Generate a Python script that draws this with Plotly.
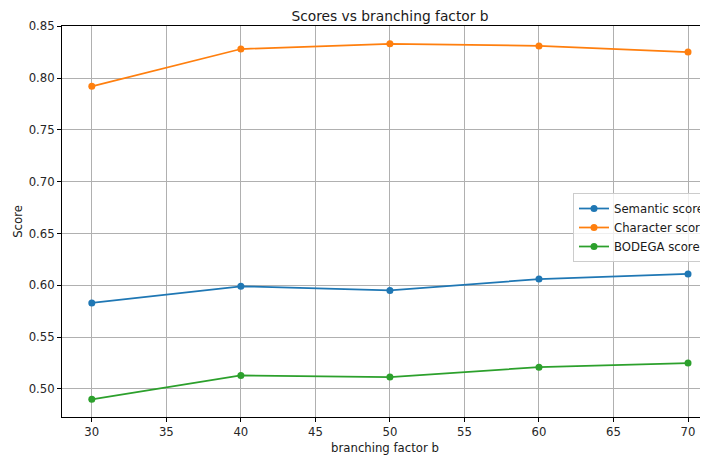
import plotly.graph_objects as go

b_values = [30, 40, 50, 60, 70]
semantic_score = [0.583, 0.599, 0.595, 0.606, 0.611]
character_score = [0.792, 0.828, 0.833, 0.831, 0.825]
bodega_score = [0.490, 0.513, 0.5115, 0.521, 0.525]

series_names = ["Semantic score", "Character score", "BODEGA score"]
series_colors = ["#1f77b4", "#ff7f0e", "#2ca02c"]

y_ticks = [0.50, 0.55, 0.60, 0.65, 0.70, 0.75, 0.80, 0.85]
x_ticks = [30, 35, 40, 45, 50, 55, 60, 65, 70]

FONT = "DejaVu Sans"
FS = 11.7
OFF = 8  # page body margin offset
W, H = 708, 457

fig = go.Figure()
for name, vals, col in zip(series_names, [semantic_score, character_score, bodega_score], series_colors):
    fig.add_trace(go.Scatter(
        x=b_values, y=vals, name=name, mode="lines+markers",
        line=dict(color=col, width=1.75),
        marker=dict(color=col, size=7),
    ))

fig.update_layout(
    width=W, height=H,
    margin=dict(l=62 - OFF, r=OFF, t=26 - OFF, b=40 + OFF, autoexpand=False),
    paper_bgcolor="white", plot_bgcolor="white",
    font=dict(family=FONT, size=FS, color="#262626"),
    title=dict(text="Scores vs branching factor b", x=(390 - OFF) / W, xanchor="center",
               y=1.0, yanchor="top", pad=dict(t=3, b=0, l=0, r=0),
               font=dict(size=13.8, color="#1a1a1a")),
    showlegend=True,
    legend=dict(x=(573 - OFF) / W, y=1 - (193 - OFF) / H, xanchor="left", yanchor="top",
                xref="container", yref="container",
                bgcolor="rgba(255,255,255,0.8)", bordercolor="#cccccc", borderwidth=1,
                font=dict(size=FS, color="#1a1a1a"), tracegroupgap=0, itemwidth=30),
)

fig.update_xaxes(
    range=[28, 71.34], tickmode="array", tickvals=x_ticks,
    ticktext=[str(v) for v in x_ticks], automargin=False,
    showgrid=True, gridcolor="#b0b0b0", gridwidth=1,
    showline=True, linecolor="black", linewidth=1, mirror=True,
    ticks="outside", ticklen=4, tickcolor="black", tickwidth=1,
    zeroline=False,
    title=dict(text="branching factor b", standoff=5, font=dict(size=FS, color="#1a1a1a")),
)
fig.update_yaxes(
    range=[0.4729, 0.8502], tickmode="array", tickvals=y_ticks,
    ticktext=["%.2f" % v for v in y_ticks], automargin=False,
    showgrid=True, gridcolor="#b0b0b0", gridwidth=1,
    showline=True, linecolor="black", linewidth=1, mirror=False,
    ticks="outside", ticklen=4, tickcolor="black", tickwidth=1,
    zeroline=False,
    title=dict(text="Score", standoff=3, font=dict(size=FS, color="#1a1a1a")),
)

fig.write_html("out.html")
